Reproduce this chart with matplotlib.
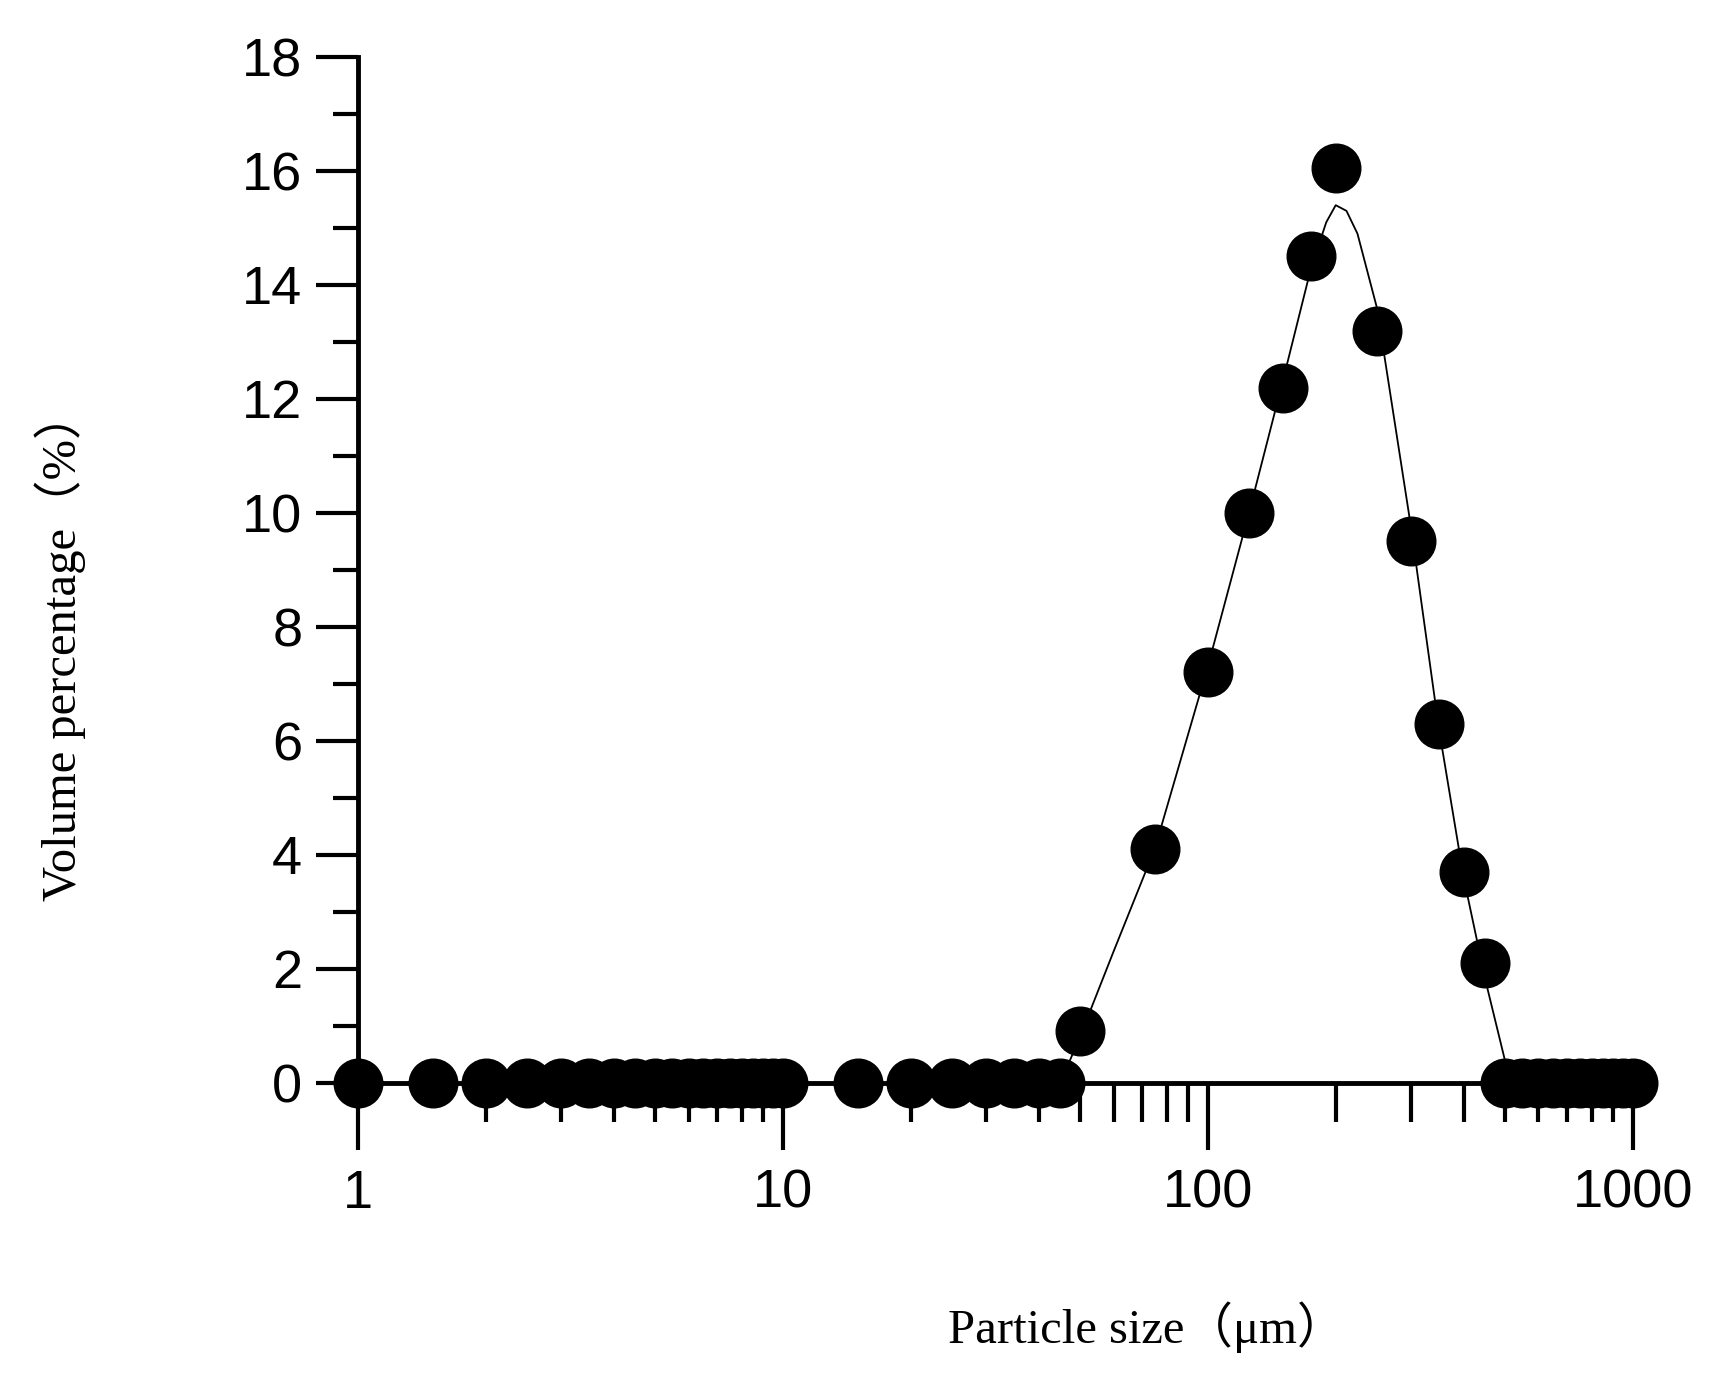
import numpy as np
import matplotlib.pyplot as plt
from matplotlib.ticker import FixedLocator, NullFormatter

# measured points (particle size in um, volume %)
size_pts = [1, 1.5, 2, 2.5, 3, 3.5, 4, 4.5, 5, 5.5, 6, 6.5, 7, 7.5, 8, 8.5, 9, 9.5, 10,
            15, 20, 25, 30, 35, 40, 45,
            50, 75, 100, 125, 150, 175, 200, 250, 300, 350, 400, 450,
            500, 550, 600, 650, 700, 750, 800, 850, 900, 950, 1000]
vol_pts = [0] * 26 + [0.9, 4.1, 7.2, 10.0, 12.2, 14.5, 16.05, 13.2, 9.5, 6.3, 3.7, 2.1] + [0] * 11

# fitted curve
size_fit = [45, 50, 60, 75, 100, 125, 150, 175, 190, 200, 212, 225, 250, 300, 350, 400, 450, 500, 520]
vol_fit = [0, 0.8, 2.3, 4.1, 7.3, 10.0, 12.3, 14.3, 15.1, 15.4, 15.3, 14.9, 13.6, 9.8, 6.2, 3.6, 1.8, 0.4, 0]

fig = plt.figure(figsize=(17.12, 13.74), dpi=100)
ax = fig.add_axes([0.209, 0.212, 0.755, 0.7465])

ax.plot(size_fit, vol_fit, color='black', lw=1.3, zorder=2)
ax.plot(size_pts, vol_pts, 'o', color='black', ms=35, zorder=3, clip_on=False)

ax.set_xscale('log')
ax.set_xlim(1, 1100)
ax.set_ylim(0, 18)
ax.set_yticks(range(0, 19, 2))
ax.yaxis.set_minor_locator(FixedLocator(range(1, 18, 2)))
ax.xaxis.set_minor_formatter(NullFormatter())
ax.set_xticks([1, 10, 100, 1000])
ax.set_xticklabels(['1', '10', '100', '1000'])

for s in ['top', 'right']:
    ax.spines[s].set_visible(False)
for s in ['left', 'bottom']:
    ax.spines[s].set_linewidth(3.5)
ax.tick_params(which='major', axis='y', length=30, width=3, direction='out', labelsize=39, pad=10)
ax.tick_params(which='minor', axis='y', length=18, width=3, direction='out')
ax.tick_params(which='major', axis='x', length=48, width=3, direction='out', labelsize=39, pad=14)
ax.tick_params(which='minor', axis='x', length=28, width=3, direction='out')
for lab in ax.get_xticklabels() + ax.get_yticklabels():
    lab.set_family(['Liberation Sans'])
    lab.set_fontweight('medium')

fam = ['Liberation Serif', 'Noto Sans CJK SC']
fig.text(0.67, 0.034, 'Particle size（μm）', family=fam, fontsize=35, ha='center', va='center')
fig.text(0.035, 0.53, 'Volume percentage（%）', family=fam, fontsize=35, ha='center', va='center', rotation=90)

fig.savefig('out.png', dpi=100)
